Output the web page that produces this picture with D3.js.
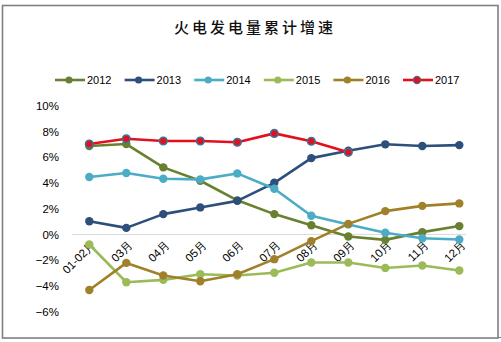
<!DOCTYPE html>
<html><head><meta charset="utf-8">
<script src="https://cdn.jsdelivr.net/npm/d3@7"></script>
<style>body{margin:0;background:#fff}svg{display:block}</style>
</head><body>
<svg id="c" width="501" height="342"></svg>
<script>
const categories = ["01-02月","03月","04月","05月","06月","07月","08月","09月","10月","11月","12月"];
const yTicks = [-6,-4,-2,0,2,4,6,8,10];
const s2012 = [6.87,7.02,5.21,4.17,2.65,1.58,0.72,-0.16,-0.42,0.18,0.65];
const s2013 = [1.03,0.51,1.58,2.10,2.61,4.01,5.93,6.50,7.00,6.87,6.94];
const s2014 = [4.46,4.77,4.33,4.28,4.74,3.55,1.45,0.78,0.13,-0.29,-0.39];
const s2015 = [-0.78,-3.71,-3.53,-3.09,-3.19,-2.98,-2.18,-2.18,-2.60,-2.41,-2.80];
const s2016 = [-4.31,-2.21,-3.19,-3.63,-3.09,-1.92,-0.52,0.82,1.81,2.22,2.41];
const s2017 = [7.02,7.43,7.26,7.26,7.16,7.85,7.24,6.38];
const seriesNames = ["2012","2013","2014","2015","2016","2017"];
const seriesData = [s2012,s2013,s2014,s2015,s2016,s2017];
const colors = ["#68802f","#2d4f7c","#4bacc6","#9bbb59","#a0812a","#e3101c"];

const svg = d3.select("#c");
svg.append("rect").attr("x",2.5).attr("y",5.5).attr("width",495.5).attr("height",332.5)
  .attr("fill","#fff").attr("stroke","#808080").attr("stroke-width",1.6);
svg.append("line").attr("x1",498).attr("x2",501).attr("y1",337.5).attr("y2",337.5).attr("stroke","#808080");

svg.append("text").attr("x",255).attr("y",33).attr("text-anchor","middle")
  .attr("font-family","'Noto Sans CJK SC'").attr("font-size",15).attr("font-weight",500)
  .attr("letter-spacing",3).attr("fill","#111").text("火电发电量累计增速");

const x = d3.scalePoint().domain(categories).range([89.3,459.3]);
const y = d3.scaleLinear().domain([-6,10]).range([311.7,105.7]);

// zero gridline
svg.append("line").attr("x1",72).attr("x2",466).attr("y1",y(0)).attr("y2",y(0))
  .attr("stroke","#d9d9d9").attr("stroke-width",1);

// y axis labels
const yAxis = d3.axisLeft(y).tickValues(yTicks).tickSize(0).tickFormat(d=>(d<0?"\u2212"+(-d):d)+"%");
const yg = svg.append("g").attr("transform","translate(62,0)").call(yAxis);
yg.select(".domain").remove();
yg.selectAll("text").attr("font-family","'Liberation Sans', Arial").attr("font-size",11.5).attr("fill","#000").attr("dx",0);

// x labels rotated
const xg = svg.append("g");
categories.forEach(c=>{
  xg.append("text").attr("transform",`translate(${x(c)+1.5},${y(0)+5}) rotate(-45)`)
    .attr("text-anchor","end").attr("font-family","'Liberation Sans', Arial").attr("font-size",11.5)
    .attr("dy","0.7em").attr("fill","#000").text(c);
});

const line = d3.line().x((d,i)=>x(categories[i])).y(d=>y(d));
seriesData.forEach((s,k)=>{
  const g = svg.append("g");
  g.append("path").datum(s).attr("d",line).attr("fill","none")
    .attr("stroke",colors[k]).attr("stroke-width",2.6).attr("stroke-linejoin","round");
  g.selectAll("circle").data(s).enter().append("circle")
    .attr("cx",(d,i)=>x(categories[i])).attr("cy",d=>y(d)).attr("r",k===5?3.8:4.2)
    .attr("fill",colors[k])
    .attr("stroke",k===5?"#3f7199":"none").attr("stroke-width",k===5?1.6:0);
});

// legend
const lg = svg.append("g");
seriesNames.forEach((n,k)=>{
  const x0 = 55 + k*69.6;
  lg.append("line").attr("x1",x0).attr("x2",x0+30).attr("y1",80).attr("y2",80)
    .attr("stroke",colors[k]).attr("stroke-width",2.6);
  lg.append("circle").attr("cx",x0+14).attr("cy",80).attr("r",3.6).attr("fill",colors[k])
    .attr("stroke",k===5?"#3f7199":"none").attr("stroke-width",1.2);
  lg.append("text").attr("x",x0+32).attr("y",84).attr("font-family","'Liberation Sans', Arial")
    .attr("font-size",11).attr("fill","#000").text(n);
});
</script>
</body></html>
